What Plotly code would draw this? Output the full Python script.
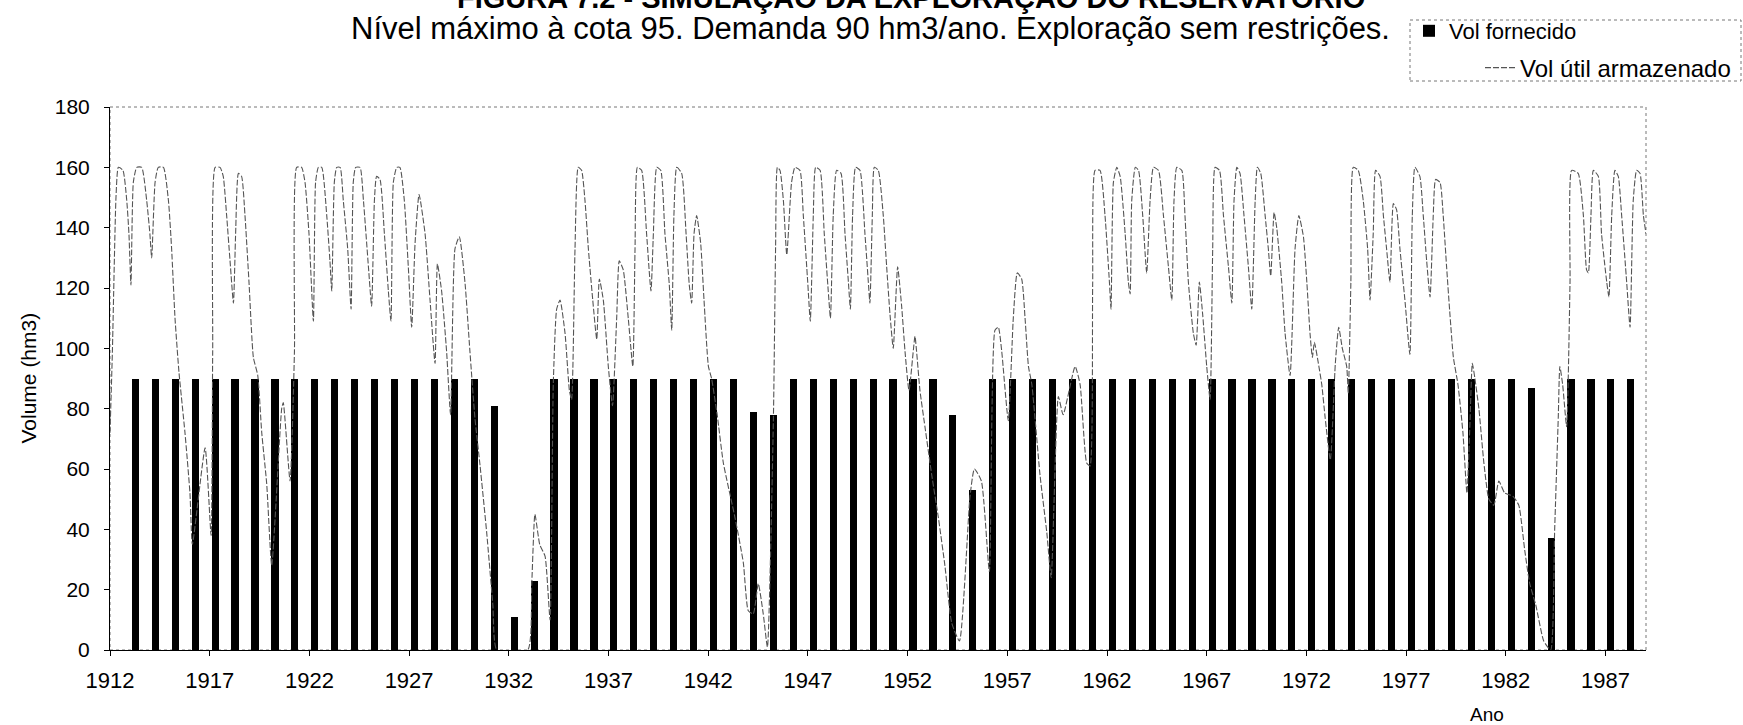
import plotly.graph_objects as go

# ---------------- data ----------------
bar_years = list(range(1913, 1989))
bar_values = ([90] * 18 + [81, 11, 23] + [90] * 10 + [79, 78] + [90] * 8 + [78, 53]
              + [90] * 27 + [87, 37] + [90] * 4)

line_t = [1912.0, 1912.12, 1912.3, 1912.42, 1912.65, 1912.84, 1912.95, 1913.05, 1913.17, 1913.34,
          1913.59, 1913.84, 1914.0, 1914.09, 1914.26, 1914.42, 1914.68, 1914.93, 1915.09, 1915.26,
          1915.46, 1915.76, 1916.01, 1916.13, 1916.77, 1917.07, 1917.15, 1917.27, 1917.52, 1917.68,
          1917.85, 1918.02, 1918.19, 1918.3, 1918.44, 1918.6, 1918.77, 1918.97, 1919.19, 1919.41,
          1919.61, 1919.86, 1920.11, 1920.61, 1920.69, 1921.03, 1921.25, 1921.36, 1921.61, 1921.78,
          1921.98, 1922.2, 1922.31, 1922.45, 1922.62, 1922.87, 1923.03, 1923.12, 1923.25, 1923.37,
          1923.54, 1923.7, 1923.92, 1924.09, 1924.2, 1924.32, 1924.54, 1924.71, 1924.96, 1925.12,
          1925.26, 1925.37, 1925.54, 1925.76, 1925.96, 1926.09, 1926.21, 1926.38, 1926.54, 1926.76,
          1926.96, 1927.13, 1927.3, 1927.5, 1927.8, 1928.05, 1928.3, 1928.42, 1928.63, 1928.88,
          1929.08, 1929.3, 1929.52, 1929.8, 1930.05, 1930.3, 1930.56, 1930.89, 1931.2, 1931.4,
          1932.95, 1933.15, 1933.31, 1933.55, 1933.82, 1934.07, 1934.23, 1934.4, 1934.57, 1934.82,
          1935.04, 1935.15, 1935.32, 1935.48, 1935.65, 1935.82, 1935.99, 1936.21, 1936.41, 1936.54,
          1936.74, 1936.99, 1937.2, 1937.41, 1937.54, 1937.74, 1937.99, 1938.22, 1938.33, 1938.45,
          1938.66, 1938.91, 1939.13, 1939.25, 1939.42, 1939.62, 1939.83, 1940.05, 1940.17, 1940.28,
          1940.42, 1940.67, 1940.89, 1941.05, 1941.17, 1941.29, 1941.42, 1941.62, 1941.79, 1942.01,
          1942.17, 1942.45, 1942.76, 1943.34, 1943.76, 1944.01, 1944.26, 1944.51, 1944.76, 1944.97,
          1945.27, 1945.38, 1945.47, 1945.6, 1945.77, 1945.94, 1946.18, 1946.35, 1946.6, 1946.77,
          1946.99, 1947.12, 1947.27, 1947.39, 1947.61, 1947.82, 1948.02, 1948.13, 1948.27, 1948.44,
          1948.66, 1948.86, 1949.03, 1949.13, 1949.24, 1949.39, 1949.61, 1949.86, 1950.03, 1950.11,
          1950.23, 1950.33, 1950.53, 1950.78, 1950.95, 1951.12, 1951.28, 1951.5, 1951.7, 1951.87,
          1952.07, 1952.37, 1952.45, 1952.62, 1952.87, 1953.21, 1953.54, 1953.87, 1954.21, 1954.6,
          1955.13, 1955.35, 1955.7, 1956.1, 1956.38, 1956.55, 1956.72, 1957.05, 1957.3, 1957.5,
          1957.72, 1957.89, 1958.06, 1958.23, 1958.64, 1958.98, 1959.2, 1959.56, 1959.8, 1960.4,
          1960.65, 1960.98, 1961.15, 1961.28, 1961.4, 1961.65, 1961.9, 1962.12, 1962.2, 1962.32,
          1962.49, 1962.66, 1962.91, 1963.07, 1963.16, 1963.24, 1963.42, 1963.58, 1963.79, 1963.99,
          1964.16, 1964.33, 1964.58, 1964.83, 1965.08, 1965.25, 1965.36, 1965.5, 1965.75, 1965.91,
          1966.08, 1966.33, 1966.47, 1966.63, 1966.8, 1967.0, 1967.17, 1967.3, 1967.42, 1967.64,
          1967.84, 1968.09, 1968.26, 1968.37, 1968.51, 1968.67, 1968.87, 1969.09, 1969.26, 1969.43,
          1969.54, 1969.71, 1969.93, 1970.09, 1970.21, 1970.38, 1970.51, 1970.76, 1970.93, 1971.18,
          1971.43, 1971.62, 1971.85, 1972.02, 1972.18, 1972.3, 1972.4, 1972.6, 1972.77, 1972.94,
          1973.2, 1973.45, 1973.62, 1973.8, 1974.02, 1974.1, 1974.23, 1974.35, 1974.6, 1974.85,
          1975.07, 1975.19, 1975.35, 1975.47, 1975.69, 1975.86, 1976.02, 1976.19, 1976.36, 1976.52,
          1976.69, 1976.94, 1977.19, 1977.31, 1977.44, 1977.69, 1977.86, 1978.03, 1978.2, 1978.36,
          1978.48, 1978.7, 1978.86, 1979.03, 1979.2, 1979.37, 1979.6, 1979.85, 1980.05, 1980.2,
          1980.32, 1980.45, 1980.65, 1980.9, 1981.15, 1981.4, 1981.65, 1981.95, 1982.35, 1982.65,
          1982.95, 1983.2, 1983.5, 1983.9, 1984.25, 1984.45, 1984.63, 1984.71, 1984.85, 1985.05,
          1985.22, 1985.3, 1985.63, 1985.89, 1986.05, 1986.14, 1986.27, 1986.39, 1986.64, 1986.8,
          1987.06, 1987.17, 1987.31, 1987.47, 1987.64, 1987.81, 1988.06, 1988.23, 1988.39, 1988.56,
          1988.73, 1988.9, 1989.03]

line_v = [72, 99, 150, 160, 159, 149, 138, 121, 155, 160,
          160, 149, 138, 130, 155, 160, 160, 149, 133, 110,
          92, 72, 52, 35, 67, 38, 99, 160, 160, 157,
          144, 129, 115, 138, 158, 157, 144, 122, 97, 91,
          72, 55, 28, 80, 82, 56, 99, 160, 160, 155,
          138, 109, 155, 160, 160, 144, 129, 119, 155, 160,
          160, 149, 133, 113, 155, 160, 160, 149, 127, 114,
          149, 157, 156, 138, 119, 109, 155, 160, 160, 149,
          127, 107, 135, 151, 138, 116, 95, 128, 119, 99,
          78, 133, 137, 122, 99, 77, 61, 39, 15, 0,
          0, 22, 45, 35, 31, 10, 88, 113, 116, 105,
          86, 83, 133, 160, 159, 149, 133, 116, 103, 123,
          116, 94, 81, 110, 129, 126, 110, 94, 133, 160,
          159, 138, 119, 138, 160, 159, 138, 121, 106, 144,
          160, 158, 138, 121, 115, 138, 144, 135, 116, 94,
          90, 78, 62, 44, 29, 13, 12, 22, 12, 1,
          77, 134, 160, 159, 149, 131, 155, 160, 159, 144,
          122, 109, 144, 160, 159, 138, 119, 110, 144, 159,
          158, 138, 122, 113, 144, 160, 159, 138, 122, 115,
          144, 160, 159, 144, 127, 111, 100, 127, 114, 99,
          86, 104, 99, 86, 74, 58, 44, 28, 9, 3,
          51, 60, 56, 26, 106, 107, 99, 76, 110, 125,
          123, 110, 94, 88, 58, 39, 24, 84, 78, 94,
          88, 62, 61, 121, 159, 159, 144, 122, 113, 155,
          160, 157, 138, 122, 118, 149, 160, 159, 144, 125,
          149, 160, 159, 144, 127, 116, 149, 160, 159, 144,
          122, 105, 101, 122, 111, 94, 83, 133, 160, 159,
          144, 127, 115, 149, 160, 158, 144, 127, 113, 149,
          160, 158, 144, 133, 124, 145, 140, 122, 105, 91,
          133, 144, 137, 122, 105, 97, 102, 95, 88, 77,
          63, 95, 107, 100, 94, 85, 122, 160, 159, 149,
          133, 116, 138, 159, 157, 144, 133, 122, 148, 146,
          133, 116, 98, 144, 160, 157, 144, 129, 117, 144,
          156, 155, 144, 127, 111, 97, 88, 72, 52, 75,
          95, 90, 80, 62, 50, 48, 56, 52, 51, 48,
          33, 22, 15, 3, 0, 40, 77, 94, 88, 74,
          122, 159, 158, 144, 126, 125, 144, 159, 157, 138,
          122, 117, 144, 159, 157, 144, 122, 107, 149, 159,
          158, 144, 138]

tick_years = [1912, 1917, 1922, 1927, 1932, 1937, 1942, 1947, 1952, 1957,
              1962, 1967, 1972, 1977, 1982, 1987]
y_ticks = [0, 20, 40, 60, 80, 100, 120, 140, 160, 180]

title_main = "FIGURA 7.2 - SIMULAÇÃO DA EXPLORAÇÃO DO RESERVATÓRIO"
subtitle = "Nível máximo à cota 95. Demanda 90 hm3/ano. Exploração sem restrições."

# ---------------- layout constants ----------------
W, H = 1743, 725
PLOT_X0, PLOT_X1, PLOT_Y0, PLOT_Y1 = 110, 1646, 107, 650   # in page pixels
L, R = PLOT_X0, W - PLOT_X1
T, B = PLOT_Y0, H - PLOT_Y1
PW, PH = PLOT_X1 - PLOT_X0, PLOT_Y1 - PLOT_Y0
BAR_OFFSET = 0.27
FONT = "Arial, Liberation Sans, sans-serif"


def px(xp):
    return (xp - PLOT_X0) / PW


def py(yp):
    return (PLOT_Y1 - yp) / PH


fig = go.Figure()
fig.add_trace(go.Bar(
    x=[y + BAR_OFFSET for y in bar_years], y=bar_values, width=0.36,
    marker=dict(color="black", line=dict(width=0)),
    name="Vol fornecido", legend="legend", showlegend=True,
))
fig.add_trace(go.Scatter(
    x=line_t, y=line_v, mode="lines", name="Vol útil armazenado",
    line=dict(color="#555555", width=1.1, dash="6px,2px", shape="spline", smoothing=0.5),
    legend="legend2", showlegend=True,
))

fig.update_layout(
    width=W, height=H,
    margin=dict(l=L, r=R, t=T, b=B, autoexpand=False),
    paper_bgcolor="white", plot_bgcolor="white",
    font=dict(family=FONT, color="black"),
    showlegend=True,
    bargap=0,
    legend=dict(x=px(1409), y=py(31), xanchor="left", yanchor="middle",
                font=dict(size=22, family=FONT), bgcolor="rgba(0,0,0,0)",
                itemwidth=30),
    legend2=dict(x=px(1480), y=py(68), xanchor="left", yanchor="middle",
                 font=dict(size=24, family=FONT), bgcolor="rgba(0,0,0,0)",
                 itemwidth=30),
    xaxis=dict(range=[1912, 1989.03], tickvals=tick_years, ticktext=[str(t) for t in tick_years],
               showgrid=False, zeroline=False, showline=True, linecolor="black", linewidth=1,
               ticks="outside", ticklen=5, tickcolor="black", tickfont=dict(size=22, family=FONT),
               ticklabelstandoff=6),
    yaxis=dict(range=[0, 180], tickvals=y_ticks, showgrid=False, zeroline=False,
               showline=True, linecolor="black", linewidth=1, ticks="outside", ticklen=5,
               tickcolor="black", tickfont=dict(size=21, family=FONT), ticklabelstandoff=10),
    shapes=[
        dict(type="rect", xref="paper", yref="paper", x0=0, x1=1, y0=0, y1=1,
             line=dict(color="#777777", width=1, dash="dot"), layer="below"),
        dict(type="rect", xref="paper", yref="paper", x0=px(1410), x1=px(1741),
             y0=py(81), y1=py(20), line=dict(color="#777777", width=1, dash="dot")),
    ],
    annotations=[
        dict(text="<b>" + title_main + "</b>", xref="paper", yref="paper", x=px(911), y=py(-3),
             xanchor="center", yanchor="middle", showarrow=False, font=dict(size=29, family=FONT)),
        dict(text=subtitle, xref="paper", yref="paper", x=px(870), y=py(29),
             xanchor="center", yanchor="middle", showarrow=False, font=dict(size=31, family=FONT)),
        dict(text="Volume (hm3)", xref="paper", yref="paper", x=px(28), y=0.5, textangle=-90,
             xanchor="center", yanchor="middle", showarrow=False, font=dict(size=21, family=FONT)),
        dict(text="Ano", xref="paper", yref="paper", x=px(1487), y=py(714),
             xanchor="center", yanchor="middle", showarrow=False, font=dict(size=19, family=FONT)),
    ],
)

# the reference is drawn flush with the page edge, so drop the default body margin
fig.write_html("out.html", config={"displayModeBar": False},
               post_script="document.body.style.margin='0';")
